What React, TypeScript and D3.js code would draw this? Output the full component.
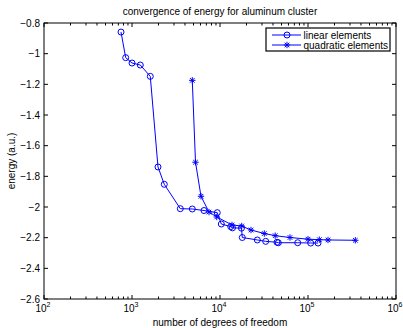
import * as d3 from 'd3';

// degrees of freedom / energy (a.u.) for the two discretisations
const linearDof = [750, 848, 1000, 1242, 1614, 1974, 2328, 3539, 4842, 6579, 9310, 10350, 13240, 13870, 17540, 17920, 26540, 33040, 44460, 46000, 76380, 107300, 130000];
const linearEnergy = [-0.859, -1.026, -1.061, -1.074, -1.148, -1.739, -1.852, -2.011, -2.013, -2.023, -2.037, -2.111, -2.128, -2.136, -2.138, -2.199, -2.215, -2.224, -2.23, -2.233, -2.233, -2.235, -2.235];

const quadDof = [4842, 5268, 6082, 7499, 9180, 13690, 17650, 22500, 31870, 42390, 62400, 100000, 134400, 168800, 345000];
const quadEnergy = [-1.174, -1.708, -1.93, -2.033, -2.065, -2.117, -2.124, -2.15, -2.173, -2.187, -2.199, -2.21, -2.213, -2.215, -2.217];

const yTicks = [-0.8, -1, -1.2, -1.4, -1.6, -1.8, -2, -2.2, -2.4, -2.6];
const xExponents = [2, 3, 4, 5, 6];
const legendLabels = ['linear elements', 'quadratic elements'];

const W = 403;
const H = 328;
const margin = { left: 44, right: 7, top: 23, bottom: 29 };
const font = '"Liberation Sans", Arial, Helvetica, sans-serif';
const blue = '#0000ff';

function Star({ x, y, r = 3.2 }: { x: number; y: number; r?: number }) {
  const d = r * 0.72;
  return (
    <g stroke={blue} strokeWidth={1}>
      <line x1={x - r} y1={y} x2={x + r} y2={y} />
      <line x1={x} y1={y - r} x2={x} y2={y + r} />
      <line x1={x - d} y1={y - d} x2={x + d} y2={y + d} />
      <line x1={x - d} y1={y + d} x2={x + d} y2={y - d} />
    </g>
  );
}

export default function App() {
  const x = d3.scaleLog().domain([1e2, 1e6]).range([margin.left, W - margin.right]);
  const y = d3.scaleLinear().domain([-2.6, -0.8]).range([H - margin.bottom, margin.top]);
  const x0 = margin.left, x1 = W - margin.right, y0 = H - margin.bottom, y1 = margin.top;

  const line = d3.line<[number, number]>().x(d => x(d[0])).y(d => y(d[1]));
  const linPts = linearDof.map((v, i) => [v, linearEnergy[i]] as [number, number]);
  const quadPts = quadDof.map((v, i) => [v, quadEnergy[i]] as [number, number]);

  // minor ticks 2..9 for each decade
  const minor: number[] = [];
  for (let e = 2; e < 6; e++) for (let k = 2; k <= 9; k++) minor.push(k * Math.pow(10, e));

  const fmt = (v: number) => (v < 0 ? '\u2212' + String(Math.abs(v)) : String(v));

  return (
    <div style={{ position: 'absolute', left: 0, top: 0 }}>
      <svg width={W} height={H} style={{ display: 'block', background: '#fff' }} fontFamily={font}>
        <rect x={0} y={0} width={W} height={H} fill="#fff" />
        {/* data */}
        <path d={line(linPts) ?? ''} fill="none" stroke={blue} strokeWidth={1} />
        <path d={line(quadPts) ?? ''} fill="none" stroke={blue} strokeWidth={1} />
        {linPts.map((p, i) => (
          <circle key={'l' + i} cx={x(p[0])} cy={y(p[1])} r={3} fill="none" stroke={blue} strokeWidth={1} />
        ))}
        {quadPts.map((p, i) => (
          <Star key={'q' + i} x={x(p[0])} y={y(p[1])} />
        ))}

        {/* axes box */}
        <rect x={x0} y={y1} width={x1 - x0} height={y0 - y1} fill="none" stroke="#000" strokeWidth={1} />
        {/* x ticks */}
        {xExponents.map(e => {
          const px = x(Math.pow(10, e));
          return (
            <g key={'xt' + e}>
              <line x1={px} x2={px} y1={y0} y2={y0 - 4} stroke="#000" />
              <line x1={px} x2={px} y1={y1} y2={y1 + 4} stroke="#000" />
              <text x={px - 1} y={y0 + 13} fontSize={10} textAnchor="middle" fill="#000">
                10<tspan fontSize={7} dy={-5}>{e}</tspan>
              </text>
            </g>
          );
        })}
        {minor.map((v, i) => (
          <g key={'mt' + i}>
            <line x1={x(v)} x2={x(v)} y1={y0} y2={y0 - 2.5} stroke="#000" />
            <line x1={x(v)} x2={x(v)} y1={y1} y2={y1 + 2.5} stroke="#000" />
          </g>
        ))}
        {/* y ticks */}
        {yTicks.map(t => (
          <g key={'yt' + t}>
            <line x1={x0} x2={x0 + 4} y1={y(t)} y2={y(t)} stroke="#000" />
            <line x1={x1} x2={x1 - 4} y1={y(t)} y2={y(t)} stroke="#000" />
            <text x={x0 - 4} y={y(t) + 3.5} fontSize={10} textAnchor="end" fill="#000">
              {fmt(t)}
            </text>
          </g>
        ))}

        {/* titles */}
        <text x={(x0 + x1) / 2} y={15} fontSize={10} textAnchor="middle" fill="#000">
          convergence of energy for aluminum cluster
        </text>
        <text x={(x0 + x1) / 2} y={326} fontSize={10} textAnchor="middle" fill="#000">
          number of degrees of freedom
        </text>
        <text transform={`translate(15,${(y0 + y1) / 2}) rotate(-90)`} fontSize={10} textAnchor="middle" fill="#000">
          energy (a.u.)
        </text>

        {/* legend */}
        <g>
          <rect x={266} y={28} width={124} height={23} fill="#fff" stroke="#000" strokeWidth={1.2} />
          {legendLabels.map((lab, i) => {
            const ly = 35 + i * 10;
            return (
              <g key={lab}>
                <line x1={272} x2={301} y1={ly} y2={ly} stroke={blue} />
                {i === 0 ? (
                  <circle cx={287} cy={ly} r={3} fill="none" stroke={blue} />
                ) : (
                  <Star x={287} y={ly} />
                )}
                <text x={303.5} y={ly + 3.5} fontSize={10} fill="#000">{lab}</text>
              </g>
            );
          })}
        </g>
      </svg>
    </div>
  );
}
